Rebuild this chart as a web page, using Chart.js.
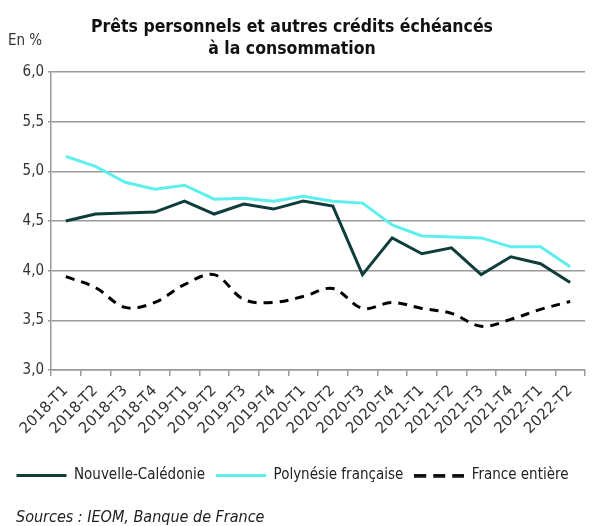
<!DOCTYPE html>
<html><head><meta charset="utf-8">
<script src="https://cdn.jsdelivr.net/npm/chart.js@4/dist/chart.umd.min.js"></script>
<style>
html,body{margin:0;padding:0;background:#fff;}
#wrap{position:relative;width:594px;height:526px;font-family:"DejaVu Sans Condensed","DejaVu Sans",sans-serif;color:#222;}
#title{position:absolute;left:0;width:584px;top:15px;text-align:center;font-weight:bold;font-size:17.5px;line-height:22px;color:#111;}
#unit{position:absolute;left:8px;top:31px;font-size:15px;color:#333;}
#src{position:absolute;left:16px;top:507px;font-size:16px;font-style:italic;color:#222;}
#cv{position:absolute;left:0;top:0;}
</style></head><body>
<div id="wrap">
<canvas id="cv" width="594" height="526"></canvas>
<div id="title">Prêts personnels et autres crédits échéancés<br>à la consommation</div>
<div id="unit">En %</div>
<div id="src">Sources : IEOM, Banque de France</div>
</div>
<script>
const categories = ["2018-T1","2018-T2","2018-T3","2018-T4","2019-T1","2019-T2","2019-T3","2019-T4","2020-T1","2020-T2","2020-T3","2020-T4","2021-T1","2021-T2","2021-T3","2021-T4","2022-T1","2022-T2"];
const nouvelleCaledonie = [4.50,4.57,4.58,4.59,4.70,4.57,4.67,4.62,4.70,4.65,3.96,4.33,4.17,4.23,3.96,4.14,4.07,3.88];
const polynesieFrancaise = [5.15,5.05,4.89,4.82,4.86,4.72,4.73,4.70,4.75,4.70,4.68,4.46,4.35,4.34,4.33,4.24,4.24,4.04];
const franceEntiere = [3.94,3.83,3.63,3.68,3.86,3.96,3.71,3.68,3.74,3.82,3.62,3.68,3.62,3.57,3.44,3.51,3.61,3.69];
const yTicks = [3.0,3.5,4.0,4.5,5.0,5.5,6.0];

const FONT = "'DejaVu Sans Condensed','DejaVu Sans',sans-serif";
const FONTX = "'DejaVu Sans',sans-serif";

// dashed legend sample
const dashSample = document.createElement('canvas');
dashSample.width = 50; dashSample.height = 4;
(function(){
  const c = dashSample.getContext('2d');
  c.strokeStyle = '#000'; c.lineWidth = 3.5; c.setLineDash([12,7]);
  c.beginPath(); c.moveTo(0,2); c.lineTo(50,2); c.stroke();
})();

new Chart(document.getElementById('cv'), {
  type: 'line',
  data: {
    labels: categories,
    datasets: [
      {label:'Nouvelle-Calédonie', data:nouvelleCaledonie, borderColor:'#0e3d3c', backgroundColor:'#0e3d3c', borderWidth:3, pointRadius:0, tension:0},
      {label:'Polynésie française', data:polynesieFrancaise, borderColor:'#5defee', backgroundColor:'#5defee', borderWidth:3, pointRadius:0, tension:0},
      {label:'France entière', data:franceEntiere, borderColor:'#000', backgroundColor:'#000', borderWidth:3, borderDash:[9,7], pointRadius:0, tension:0.35}
    ]
  },
  options: {
    responsive:false, animation:false,
    layout:{padding:{left:0,right:9,top:72,bottom:33}},
    plugins:{
      title:{display:false},
      tooltip:{enabled:false},
      legend:{position:'bottom', labels:{
        usePointStyle:true, pointStyle:'line', pointStyleWidth:50, boxHeight:10, padding:11, color:'#222', font:{family:FONT,size:15},
        generateLabels:(chart)=>{
          const items = Chart.defaults.plugins.legend.labels.generateLabels(chart);
          items.forEach(it=>{ if (it.datasetIndex===2) { it.pointStyle = dashSample; } });
          return items;
        }
      }}
    },
    scales:{
      x:{
        offset:true,
        grid:{offset:true, drawOnChartArea:false, drawTicks:true, tickLength:6, color:'#999', lineWidth:1.5},
        border:{display:true, color:'#999', width:1.5},
        ticks:{minRotation:45, maxRotation:45, autoSkip:false, color:'#333', padding:6, font:{family:FONTX,size:15}},
        afterFit:(s)=>{s.height = 87;}
      },
      y:{
        min:3, max:6,
        afterBuildTicks:(s)=>{s.ticks = yTicks.map(v=>({value:v}));},
        grid:{color:'#999', lineWidth:1.5, tickLength:3},
        border:{display:true, color:'#999', width:1.5},
        ticks:{color:'#333', padding:4, font:{family:FONT,size:15}, callback:(v)=>Number(v).toFixed(1).replace('.',',')},
        afterFit:(s)=>{s.width = 51;}
      }
    }
  }
});
</script>
</body></html>
